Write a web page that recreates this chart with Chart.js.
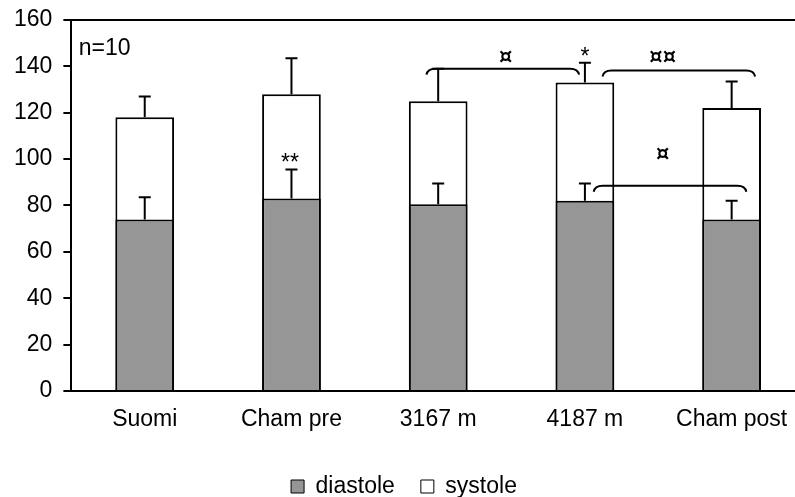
<!DOCTYPE html>
<html>
<head>
<meta charset="utf-8">
<script src="https://cdn.jsdelivr.net/npm/chart.js@4/dist/chart.umd.min.js"></script>
<style>
  html, body { margin: 0; padding: 0; background: #fff; overflow: hidden; }
  #wrap { width: 795px; height: 497px; overflow: hidden; }
</style>
</head>
<body>
<div id="wrap"><canvas id="bpChart" width="805" height="497"></canvas></div>
<script>
const categories = ['Suomi', 'Cham pre', '3167 m', '4187 m', 'Cham post'];
const diastole = [74, 83, 80.5, 82, 74];
const diastoleErr = [9.5, 12.5, 9, 7.5, 8];
const systole = [118, 128, 125, 133, 122];
const systoleErr = [9, 15.5, 14, 8.5, 11.5];
const yTicks = [0, 20, 40, 60, 80, 100, 120, 140, 160];

// significance brackets: [from index, to index, level]
const brackets = [
    [1.92, 2.96, 139],
    [3.12, 4.16, 138.2],
    [3.06, 4.10, 88.5]
];
// text marks: [text, index, value, align, font]
const marks = [
    ['n=10', -0.45, 144.7, 'left', '23px "Liberation Sans", Arial, sans-serif'],
    ['**', 0.99, 95.5, 'center', '23px "Liberation Sans", Arial, sans-serif'],
    ['*', 3.0, 141, 'center', '23px "Liberation Sans", Arial, sans-serif'],
    ['¤', 2.46, 141.5, 'center', 'bold 21px "DejaVu Sans", sans-serif'],
    ['¤¤', 3.53, 141.5, 'center', 'bold 21px "DejaVu Sans", sans-serif'],
    ['¤', 3.53, 99.5, 'center', 'bold 21px "DejaVu Sans", sans-serif']
];

const FONT = '"Liberation Sans", Arial, sans-serif';
const SIZE = 23;

const extras = {
    id: 'extras',
    afterDatasetsDraw(chart) {
        const ctx = chart.ctx;
        const x = chart.scales.x;
        const y = chart.scales.y;
        const area = chart.chartArea;
        const step = x.getPixelForValue(1) - x.getPixelForValue(0);
        const xAt = idx => x.getPixelForValue(0) + idx * step;
        ctx.save();
        ctx.strokeStyle = '#000';
        ctx.lineWidth = 2;

        // plot frame top line
        ctx.beginPath();
        ctx.moveTo(area.left, area.top);
        ctx.lineTo(area.right, area.top);
        ctx.stroke();

        // error bars (upper only)
        const cap = 6;
        [[diastole, diastoleErr], [systole, systoleErr]].forEach(([vals, errs]) => {
            vals.forEach((v, i) => {
                const cx = x.getPixelForValue(i);
                const y0 = y.getPixelForValue(v);
                const y1 = y.getPixelForValue(v + errs[i]);
                ctx.beginPath();
                ctx.moveTo(cx, y0);
                ctx.lineTo(cx, y1);
                ctx.moveTo(cx - cap, y1);
                ctx.lineTo(cx + cap, y1);
                ctx.stroke();
            });
        });

        // brackets with hooked ends
        brackets.forEach(([a, b, v]) => {
            const x1 = xAt(a);
            const x2 = xAt(b);
            const yy = y.getPixelForValue(v);
            ctx.beginPath();
            ctx.moveTo(x1, yy + 6);
            ctx.quadraticCurveTo(x1 + 1, yy, x1 + 9, yy);
            ctx.lineTo(x2 - 9, yy);
            ctx.quadraticCurveTo(x2 - 1, yy, x2, yy + 6);
            ctx.stroke();
        });

        ctx.fillStyle = '#000';
        ctx.textBaseline = 'alphabetic';
        marks.forEach(([t, idx, v, align, font]) => {
            ctx.font = font;
            ctx.textAlign = align;
            ctx.fillText(t, xAt(idx), y.getPixelForValue(v));
        });
        ctx.restore();
    }
};

new Chart(document.getElementById('bpChart'), {
    type: 'bar',
    data: {
        labels: categories,
        datasets: [
            {
                label: 'diastole',
                data: diastole,
                backgroundColor: '#969696',
                borderColor: '#000',
                borderWidth: 2,
                grouped: false,
                order: 0
            },
            {
                label: 'systole',
                data: systole,
                backgroundColor: '#fff',
                borderColor: '#000',
                borderWidth: 2,
                grouped: false,
                order: 1
            }
        ]
    },
    options: {
        responsive: false,
        animation: false,
        layout: { padding: { left: 3, top: 0, right: 0, bottom: -11 } },
        datasets: { bar: { categoryPercentage: 1, barPercentage: 0.4 } },
        plugins: {
            tooltip: { enabled: false },
            legend: {
                position: 'bottom',
                labels: {
                    color: '#000',
                    font: { family: FONT, size: SIZE },
                    boxWidth: 13,
                    boxHeight: 13,
                    padding: 26,
                    generateLabels(chart) {
                        return chart.data.datasets.map((ds, i) => ({
                            text: ds.label,
                            fillStyle: ds.backgroundColor,
                            strokeStyle: '#000',
                            lineWidth: 1,
                            datasetIndex: i
                        }));
                    }
                }
            }
        },
        scales: {
            x: {
                grid: { display: false, drawTicks: false },
                border: { color: '#000', width: 2 },
                ticks: { color: '#000', font: { family: FONT, size: SIZE, lineHeight: 1.74 }, padding: 9, maxRotation: 0 }
            },
            y: {
                min: 0,
                max: 160,
                afterBuildTicks(scale) {
                    scale.ticks = yTicks.map(v => ({ value: v }));
                },
                grid: { drawOnChartArea: false, drawTicks: true, tickLength: 8, color: '#000', lineWidth: 2 },
                border: { color: '#000', width: 2 },
                ticks: { color: '#000', font: { family: FONT, size: SIZE, lineHeight: 0.78 }, padding: 11 }
            }
        }
    },
    plugins: [extras]
});
</script>
</body>
</html>
